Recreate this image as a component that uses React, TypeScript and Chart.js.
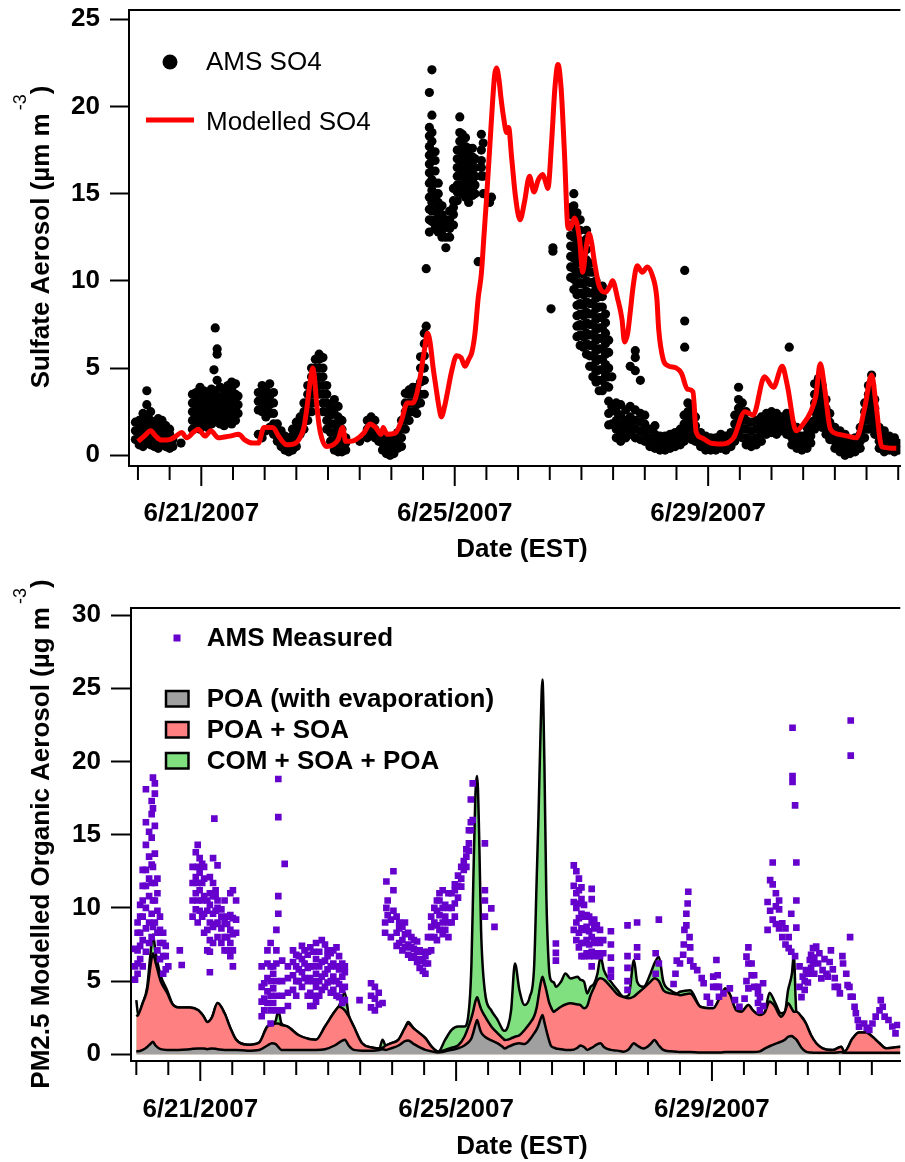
import React, { useEffect, useRef } from "react";
import { Chart, registerables } from "chart.js";

Chart.register(...registerables);

const FONT = '"Liberation Sans", Arial, Helvetica, sans-serif';

// x values: days since 6/20/2007 00:00 EST
const dateTickLabels = ["6/21/2007", "6/25/2007", "6/29/2007"];
const dateTickLabelDays = [1, 5, 9];
const dateMinorTickDays = [0, 0.5, 1, 1.5, 2, 2.5, 3, 3.5, 4, 4.5, 5, 5.5, 6, 6.5, 7, 7.5, 8, 8.5, 9, 9.5, 10, 10.5, 11, 11.5, 12];

const so4YTicks = [0, 5, 10, 15, 20, 25];
const orgYTicks = [0, 5, 10, 15, 20, 25, 30];

// ---------- Top panel: sulfate ----------
const so4ModelDays = [
  0.00, 0.10, 0.20, 0.28, 0.37, 0.50, 0.60, 0.69, 0.77, 0.87,
  0.95, 1.06, 1.15, 1.27, 1.36, 1.45, 1.59, 1.68, 1.81, 1.90,
  1.99, 2.13, 2.22, 2.35, 2.49, 2.57, 2.62, 2.67, 2.71, 2.76,
  2.79, 2.82, 2.86, 2.90, 2.97, 3.08, 3.16, 3.23, 3.28, 3.36,
  3.44, 3.57, 3.66, 3.75, 3.84, 3.87, 3.93, 4.07, 4.16, 4.25,
  4.34, 4.43, 4.52, 4.57, 4.61, 4.66, 4.70, 4.75, 4.79, 4.84,
  4.88, 4.95, 5.03, 5.10, 5.16, 5.22, 5.27, 5.32, 5.37, 5.42,
  5.46, 5.50, 5.55, 5.60, 5.63, 5.66, 5.70, 5.73, 5.77, 5.82,
  5.85, 5.90, 5.96, 6.03, 6.10, 6.18, 6.25, 6.32, 6.39, 6.44,
  6.47, 6.53, 6.58, 6.63, 6.68, 6.73, 6.79, 6.82, 6.89, 6.97,
  7.02, 7.07, 7.12, 7.16, 7.20, 7.28, 7.38, 7.45, 7.49, 7.57,
  7.64, 7.68, 7.73, 7.77, 7.82, 7.88, 7.96, 8.04, 8.12, 8.19,
  8.22, 8.29, 8.36, 8.50, 8.58, 8.67, 8.76, 8.81, 8.90, 9.04,
  9.22, 9.40, 9.58, 9.71, 9.89, 10.03, 10.17, 10.25, 10.39, 10.48,
  10.62, 10.70, 10.77, 10.84, 10.93, 11.07, 11.20, 11.34, 11.47, 11.58,
  11.65, 11.74, 11.97,
];
const so4ModelValues = [
  0.8, 1.1, 1.4, 1.1, 0.87, 0.9, 1.1, 1.3, 1.0, 1.3,
  1.5, 1.1, 1.4, 1.0, 1.05, 1.1, 1.2, 0.9, 0.7, 0.7,
  1.6, 1.6, 1.1, 0.6, 0.7, 1.1, 1.6, 2.8, 4.0, 5.0,
  4.3, 3.0, 1.7, 1.0, 0.5, 0.6, 0.9, 1.6, 0.8, 0.8,
  0.9, 1.3, 1.8, 1.6, 1.2, 1.6, 1.2, 1.3, 2.0, 3.0,
  3.0, 4.0, 6.0, 7.0, 6.5, 5.0, 4.0, 2.8, 2.2, 2.8,
  3.5, 4.8, 5.7, 5.6, 5.1, 5.5, 5.9, 7.0, 9.0, 10.4,
  12.5, 14.6, 17.5, 20.4, 21.8, 22.2, 21.5, 20.5, 19.4, 18.5,
  18.8, 17.0, 14.8, 13.5, 14.5, 16.0, 15.1, 15.8, 16.1, 15.6,
  15.3, 18.0, 21.0, 22.4, 21.0, 17.5, 13.0, 13.0, 13.6, 12.4,
  10.5, 11.8, 12.7, 12.2, 11.2, 9.7, 9.35, 9.7, 10.0, 9.0,
  7.8, 6.5, 7.0, 8.2, 9.8, 10.86, 10.5, 10.8, 10.3, 9.0,
  7.2, 5.5, 5.15, 5.0, 4.7, 3.8, 3.65, 1.35, 1.0, 0.7,
  0.65, 1.0, 2.5, 2.3, 4.5, 3.9, 5.1, 4.0, 1.4, 1.7,
  2.5, 3.4, 5.25, 3.8, 1.5, 1.2, 1.1, 1.0, 2.7, 4.6,
  2.9, 0.5, 0.4,
];

// each row: [day, observed values at that time...]
const amsSo4Rows: number[][] = [
  [-0.04, 0.9, 1.4, 1.9], [0.02, 0.6, 1.0, 1.5, 2.0], [0.08, 0.5, 0.9, 1.4, 1.9, 2.4],
  [0.14, 0.7, 1.2, 1.7, 2.2, 2.9, 3.7], [0.20, 0.6, 1.0, 1.5, 2.0, 2.5], [0.26, 0.5, 0.9, 1.4, 1.9],
  [0.32, 0.4, 0.8, 1.3, 1.8, 2.1], [0.38, 0.6, 1.0, 1.5, 2.0], [0.44, 0.5, 0.9, 1.3, 1.7],
  [0.50, 0.4, 0.8, 1.2, 1.5], [0.55, 0.5, 0.9], [0.68, 0.7],
  [0.86, 1.5, 2.0, 2.5, 3.0, 3.5], [0.92, 1.6, 2.1, 2.6, 3.1, 3.6], [0.98, 1.5, 2.0, 2.5, 3.0, 3.5, 3.9],
  [1.04, 1.7, 2.2, 2.7, 3.2, 3.7], [1.10, 1.6, 2.1, 2.6, 3.1, 3.6], [1.16, 1.8, 2.3, 2.8, 3.3, 3.8],
  [1.20, 2.0, 2.5, 3.0, 3.5, 4.9], [1.22, 2.2, 2.7, 3.2, 3.7, 7.3], [1.25, 1.9, 2.4, 2.9, 3.4, 4.3, 5.8, 6.1],
  [1.30, 1.8, 2.3, 2.8, 3.3, 3.9], [1.36, 1.7, 2.2, 2.7, 3.2, 3.7], [1.42, 2.0, 2.5, 3.0, 3.5, 4.0],
  [1.48, 1.8, 2.3, 2.8, 3.3, 3.8, 4.2], [1.54, 2.0, 2.5, 3.0, 3.5, 4.1], [1.58, 2.4, 2.9, 3.4],
  [1.90, 1.2, 2.6, 3.1, 3.6], [1.96, 1.0, 2.5, 3.0, 3.5, 4.0], [2.02, 1.4, 2.2, 2.8, 3.3, 3.8],
  [2.08, 1.6, 2.4, 2.9, 3.4, 4.1], [2.14, 1.2, 1.8, 2.4, 3.0, 3.6], [2.20, 0.8, 1.3, 1.8],
  [2.26, 0.5, 0.9, 1.4], [2.32, 0.3, 0.7, 1.1], [2.38, 0.2, 0.6, 1.0],
  [2.44, 0.3, 0.7, 1.1, 1.5], [2.50, 0.5, 1.0, 1.5, 1.9], [2.56, 1.2, 1.7, 2.2],
  [2.62, 1.5, 2.0, 2.5, 3.0], [2.68, 2.0, 2.5, 3.0, 3.5, 4.0], [2.74, 2.5, 3.0, 3.5, 4.0, 4.5, 5.0],
  [2.80, 3.0, 3.5, 4.0, 4.5, 5.0, 5.5], [2.86, 3.5, 4.0, 4.5, 5.0, 5.5, 5.8], [2.92, 2.5, 3.0, 3.5, 4.0, 4.5, 5.0, 5.6],
  [2.98, 1.5, 2.0, 2.5, 3.0, 3.5, 4.0], [3.04, 0.8, 1.3, 1.8, 2.3, 2.8], [3.10, 0.3, 0.8, 1.3, 1.8, 2.4, 3.2],
  [3.16, 0.2, 0.6, 1.1, 1.6, 2.2, 2.8], [3.22, 0.2, 0.6, 1.0, 1.5, 2.0], [3.28, 0.3, 0.7, 1.0],
  [3.50, 0.8], [3.62, 1.0, 1.5, 2.0], [3.68, 1.2, 1.7, 2.2], [3.74, 1.0, 1.5, 2.0], [3.80, 0.8, 1.2],
  [3.86, 0.3, 0.7, 1.1], [3.92, 0.1, 0.5, 0.9], [3.98, 0.0, 0.4, 0.8], [4.04, 0.1, 0.5, 1.0],
  [4.10, 0.4, 0.9, 1.3], [4.16, 0.5, 1.0, 1.5, 2.0], [4.22, 1.5, 2.0, 2.5, 3.0, 3.55],
  [4.28, 2.0, 2.5, 3.0, 3.5, 3.75], [4.34, 2.5, 3.0, 3.5, 3.9], [4.40, 2.4, 2.9, 3.4, 3.9],
  [4.46, 3.0, 3.5, 4.2, 5.0, 5.65], [4.52, 3.5, 4.3, 5.0, 5.7, 6.4, 7.0], [4.55, 7.4, 10.7],
  [4.60, 12.8, 13.5, 14.1, 14.8, 15.6, 16.2, 16.7, 17.2, 17.7, 18.3, 18.8, 20.8],
  [4.64, 13.4, 14.0, 14.5, 15.2, 15.8, 16.3, 16.9, 17.4, 18.0, 18.5, 19.5, 22.1],
  [4.69, 13.0, 13.5, 14.0, 14.5, 15.0, 15.6, 16.3, 16.9, 17.4],
  [4.74, 12.8, 13.2, 13.6, 14.1, 14.5, 15.0, 15.6], [4.80, 12.5, 12.9, 13.2, 13.8, 14.3],
  [4.86, 11.9, 12.5, 13.1, 13.5], [4.92, 12.5, 13.0, 13.5, 14.0], [4.98, 13.2, 13.8, 14.2, 14.6, 15.3],
  [5.04, 14.6, 15.1, 15.5, 16.0, 16.5, 17.0, 17.5], [5.08, 15.5, 16.0, 16.5, 17.0, 17.5, 18.0, 18.5, 19.4],
  [5.12, 15.0, 15.5, 16.0, 16.4, 16.8, 17.2, 17.7, 18.4], [5.17, 14.8, 15.2, 15.6, 16.0, 16.3, 16.8, 17.2, 17.7, 18.2],
  [5.22, 14.5, 15.0, 15.5, 16.1, 16.5, 16.8, 17.2, 17.6], [5.28, 14.9, 15.3, 15.8, 16.2, 16.6, 17.1, 17.6],
  [5.32, 15.0, 15.5, 16.0, 16.5, 17.0], [5.37, 11.1], [5.42, 16.0, 16.5, 16.9, 17.5, 18.4], [5.45, 15.0, 16.0, 17.9],
  [5.55, 14.5], [5.58, 14.8], [6.52, 8.4], [6.55, 11.7, 11.9],
  [6.83, 10.2, 10.8, 11.4, 12.0, 12.6, 13.2, 13.8, 14.2],
  [6.88, 9.5, 10.1, 10.7, 11.3, 11.9, 12.5, 13.1, 13.7, 14.3, 15.0],
  [6.93, 6.8, 7.4, 8.0, 8.6, 9.2, 9.8, 10.4, 11.0, 11.6, 12.2, 12.8, 13.4, 13.9],
  [6.98, 6.3, 6.9, 7.5, 8.1, 8.7, 9.3, 9.9, 10.5, 11.1, 11.7, 12.3, 12.9, 13.5],
  [7.03, 6.2, 6.8, 7.4, 8.0, 8.6, 9.2, 9.8, 10.4, 11.0, 11.6, 12.2],
  [7.08, 5.8, 6.4, 7.0, 7.6, 8.2, 8.8, 9.4, 10.0, 10.6, 11.2, 11.8, 12.4, 12.9],
  [7.13, 5.1, 5.7, 6.3, 6.9, 7.5, 8.1, 8.7, 9.3, 9.9, 10.5, 11.0],
  [7.18, 4.5, 5.1, 5.7, 6.3, 6.9, 7.5, 8.1, 8.7, 9.3, 9.9, 10.5],
  [7.23, 4.2, 4.8, 5.4, 6.0, 6.6, 7.2, 7.8, 8.4, 9.0, 9.6, 10.0],
  [7.28, 3.7, 4.3, 4.9, 5.5, 6.1, 6.7, 7.3, 7.9, 8.5, 9.1, 9.5],
  [7.33, 3.7, 4.3, 4.9, 5.5, 6.1, 6.7, 7.3, 7.9, 8.5, 9.1, 9.7],
  [7.38, 4.0, 4.6, 5.2, 5.8, 6.4, 7.0, 7.6, 8.1],
  [7.43, 1.74, 2.4, 3.1, 3.9, 4.5, 5.0, 5.9, 6.6], [7.48, 1.8, 2.8, 4.5],
  [7.55, 1.0, 1.5, 2.0, 2.5, 3.0], [7.62, 0.8, 1.3, 1.8, 2.3, 2.9], [7.70, 1.0, 1.5, 2.0, 2.6],
  [7.77, 1.2, 1.7, 2.2, 2.8, 5.1], [7.85, 1.0, 1.5, 2.0, 2.6, 4.85, 5.6, 6.0], [7.93, 0.9, 1.4, 1.9, 2.4, 4.3],
  [8.00, 0.8, 1.3, 1.8, 2.3], [8.08, 0.5, 1.0, 1.5], [8.16, 0.4, 0.8, 1.2, 1.7], [8.24, 0.3, 0.7, 1.1],
  [8.32, 0.3, 0.7, 1.1], [8.40, 0.4, 0.8, 1.2], [8.48, 0.5, 0.9, 1.3], [8.56, 0.6, 1.0, 1.5],
  [8.62, 0.8, 1.3, 1.8, 2.3], [8.63, 6.2, 7.7, 10.6], [8.68, 1.0, 1.5, 2.0, 2.5, 3.0],
  [8.74, 0.9, 1.4, 1.9, 2.4, 2.9], [8.80, 0.8, 1.2, 1.7, 2.2], [8.88, 0.5, 0.9, 1.3],
  [8.96, 0.3, 0.7, 1.1], [9.04, 0.3, 0.6, 1.0], [9.12, 0.3, 0.7, 1.0], [9.20, 0.4, 0.8, 1.2],
  [9.28, 0.3, 0.7, 1.1], [9.36, 0.5, 0.9, 1.3], [9.42, 0.8, 1.3, 1.8, 2.3],
  [9.48, 1.2, 1.7, 2.2, 2.7, 3.2, 3.9], [9.54, 1.0, 1.5, 2.0, 2.5, 3.0], [9.60, 0.6, 1.0, 1.5, 2.0, 2.5],
  [9.68, 0.5, 0.9, 1.4, 1.9], [9.76, 0.6, 1.0, 1.5, 2.0], [9.84, 0.8, 1.2, 1.7, 2.2],
  [9.92, 1.2, 1.6, 2.0, 2.4], [10.00, 1.3, 1.7, 2.1, 2.5], [10.08, 1.2, 1.6, 2.0, 2.4],
  [10.16, 1.4, 1.8, 2.2], [10.24, 1.2, 1.6, 2.0, 2.4], [10.28, 6.2],
  [10.32, 0.6, 1.0, 1.4, 1.8], [10.40, 0.4, 0.8, 1.2, 1.6], [10.48, 0.3, 0.7, 1.1],
  [10.56, 0.4, 0.8, 1.2, 1.6], [10.62, 0.7, 1.1, 1.5, 1.9], [10.68, 1.5, 2.0, 2.5, 3.0, 3.5, 4.1],
  [10.74, 1.8, 2.3, 2.8, 3.3, 3.8, 4.4], [10.80, 1.6, 2.1, 2.6, 3.1, 3.6, 4.0], [10.86, 1.2, 1.7, 2.2, 2.7, 3.2],
  [10.92, 0.9, 1.4, 1.9, 2.4], [11.00, 0.4, 0.8, 1.2, 1.6], [11.08, 0.2, 0.6, 1.0, 1.4],
  [11.16, 0.0, 0.4, 0.8, 1.2], [11.24, 0.1, 0.5, 0.9], [11.32, 0.2, 0.6, 1.0], [11.40, 0.4, 0.8, 1.2, 1.6],
  [11.47, 1.0, 1.5, 2.0, 2.5, 3.0], [11.53, 1.5, 2.0, 2.5, 3.0, 3.5, 4.0], [11.58, 2.0, 2.5, 3.0, 3.5, 4.0, 4.6],
  [11.63, 1.2, 1.7, 2.2, 2.7, 3.2], [11.70, 0.4, 0.8, 1.2, 1.6], [11.78, 0.2, 0.6, 1.0, 1.4],
  [11.86, 0.3, 0.7, 1.1], [11.94, 0.2, 0.6, 1.0], [12.00, 0.3, 0.7],
];

// ---------- Bottom panel: organics ----------
const orgDays = [
  0.00, 0.03, 0.10, 0.17, 0.22, 0.26, 0.30, 0.38, 0.48, 0.57,
  0.66, 0.84, 0.97, 1.05, 1.11, 1.18, 1.27, 1.38, 1.47, 1.56,
  1.74, 1.92, 2.05, 2.12, 2.18, 2.22, 2.27, 2.36, 2.54, 2.70,
  2.81, 2.95, 3.10, 3.17, 3.26, 3.32, 3.40, 3.53, 3.70, 3.80,
  3.85, 3.90, 3.98, 4.10, 4.20, 4.25, 4.34, 4.52, 4.62, 4.72,
  4.83, 4.93, 5.03, 5.13, 5.21, 5.24, 5.27, 5.30, 5.33, 5.36,
  5.39, 5.45, 5.55, 5.65, 5.73, 5.76, 5.81, 5.86, 5.92, 5.99,
  6.07, 6.15, 6.22, 6.26, 6.29, 6.32, 6.35, 6.38, 6.41, 6.45,
  6.48, 6.53, 6.56, 6.64, 6.71, 6.79, 6.90, 6.94, 7.00, 7.05,
  7.10, 7.16, 7.21, 7.26, 7.31, 7.42, 7.52, 7.62, 7.70, 7.78,
  7.83, 7.93, 8.04, 8.10, 8.17, 8.24, 8.35, 8.45, 8.50, 8.66,
  8.82, 9.02, 9.13, 9.21, 9.28, 9.38, 9.46, 9.57, 9.64, 9.75,
  9.83, 9.90, 9.98, 10.08, 10.14, 10.19, 10.25, 10.28, 10.32, 10.40,
  10.47, 10.55, 10.63, 10.73, 10.89, 11.02, 11.07, 11.20, 11.30, 11.41,
  11.51, 11.62, 11.72, 11.95,
];
const poaValues = [
  0.2, 0.2, 0.3, 0.5, 0.7, 0.85, 0.6, 0.35, 0.3, 0.3,
  0.3, 0.35, 0.4, 0.4, 0.35, 0.4, 0.35, 0.3, 0.3, 0.3,
  0.25, 0.3, 0.6, 0.75, 0.7, 0.5, 0.3, 0.3, 0.3, 0.3,
  0.3, 0.35, 0.6, 0.8, 1.0, 0.6, 0.3, 0.25, 0.25, 0.3,
  0.35, 0.3, 0.4, 0.6, 0.9, 0.95, 0.7, 0.3, 0.2, 0.12,
  0.2, 0.3, 0.4, 0.6, 0.9, 1.1, 1.5, 2.0, 2.34, 1.9,
  1.5, 1.2, 0.95, 0.75, 0.5, 0.4, 0.5, 0.6, 0.7, 0.75,
  0.7, 1.0, 1.43, 1.7, 2.0, 2.4, 2.68, 2.2, 1.66, 1.0,
  0.6, 0.45, 0.4, 0.35, 0.3, 0.29, 0.45, 0.6, 0.5, 0.3,
  0.4, 0.55, 0.7, 0.75, 0.5, 0.3, 0.25, 0.18, 0.35, 0.75,
  0.6, 0.4, 0.7, 0.98, 0.6, 0.3, 0.2, 0.18, 0.15, 0.15,
  0.12, 0.12, 0.12, 0.15, 0.15, 0.15, 0.15, 0.15, 0.15, 0.2,
  0.4, 0.55, 0.7, 0.86, 1.0, 1.2, 1.25, 1.15, 1.0, 0.45,
  0.18, 0.12, 0.1, 0.1, 0.1, 0.15, 0.1, 0.1, 0.1, 0.1,
  0.1, 0.1, 0.1, 0.1,
];
const poaSoaValues = [
  2.6, 2.7, 3.5, 4.4, 6.0, 6.9, 6.3, 5.0, 4.2, 3.4,
  3.2, 3.2, 3.0, 2.6, 2.2, 2.5, 3.5, 2.8, 1.8, 1.0,
  0.65, 0.8, 1.9, 2.0, 2.1, 2.1, 2.0, 1.9, 1.3, 1.05,
  1.0, 1.9, 2.9, 3.25, 3.0, 2.6, 1.9, 0.75, 0.45, 0.4,
  0.45, 0.6, 0.75, 1.0, 1.8, 2.1, 1.75, 1.1, 0.5, 0.18,
  0.3, 0.45, 0.6, 1.2, 2.1, 2.5, 3.0, 3.6, 3.9, 3.5,
  3.1, 2.6, 1.9, 1.43, 1.1, 0.98, 1.0, 1.09, 1.2, 1.3,
  1.66, 2.1, 2.6, 3.2, 4.0, 4.8, 5.3, 4.9, 4.37, 3.6,
  3.25, 2.9, 3.0, 3.25, 3.4, 3.48, 3.4, 3.37, 3.14, 3.3,
  4.0, 4.6, 5.07, 5.2, 5.1, 4.6, 4.1, 3.9, 3.82, 3.95,
  4.14, 4.5, 4.96, 5.2, 5.0, 4.38, 4.16, 4.1, 4.04, 4.16,
  3.25, 3.14, 3.93, 4.5, 4.1, 3.0, 2.9, 3.37, 3.0, 2.68,
  2.9, 3.6, 3.3, 2.57, 2.9, 3.48, 3.1, 2.9, 2.9, 2.57,
  2.1, 1.3, 0.75, 0.41, 0.29, 0.52, 0.18, 1.09, 1.48, 1.48,
  1.2, 0.75, 0.41, 0.52,
];
const comSoaPoaValues = [
  3.7, 2.7, 3.5, 4.6, 6.8, 8.2, 7.0, 5.4, 4.4, 3.4,
  3.2, 3.2, 3.0, 2.6, 2.2, 2.5, 3.5, 2.8, 1.8, 1.0,
  0.65, 0.8, 1.9, 2.0, 2.3, 3.0, 2.1, 1.9, 1.3, 1.05,
  1.0, 1.9, 2.9, 3.3, 4.2, 2.7, 1.9, 0.75, 0.45, 0.4,
  1.0, 0.6, 0.75, 1.0, 1.8, 2.2, 1.75, 1.1, 0.5, 0.18,
  1.0, 1.66, 1.89, 1.89, 3.5, 6.2, 12.0, 17.5, 19.0, 15.0,
  8.5, 4.3, 3.0, 2.34, 1.66, 1.6, 1.9, 3.0, 6.2, 4.38,
  3.37, 3.9, 6.0, 12.0, 16.6, 22.0, 25.6, 20.0, 11.0, 6.0,
  5.07, 4.9, 4.61, 4.96, 5.52, 5.18, 5.3, 5.1, 4.96, 4.16,
  4.6, 4.84, 5.52, 6.67, 5.75, 4.96, 4.4, 3.93, 4.04, 6.44,
  4.96, 4.61, 5.52, 6.2, 6.67, 4.96, 4.38, 4.16, 4.27, 4.38,
  3.25, 3.14, 3.93, 4.5, 4.1, 3.0, 2.9, 3.37, 3.0, 2.68,
  2.9, 4.2, 3.6, 2.8, 2.9, 4.38, 5.5, 6.8, 2.9, 2.57,
  2.1, 1.3, 0.75, 0.41, 0.29, 0.52, 0.18, 1.09, 1.48, 1.48,
  1.2, 0.75, 0.41, 0.52,
];

// each row: [day, measured values at that time...]
const amsOrgRows: number[][] = [
  [-0.02, 5.1, 6.0, 7.2], [0.02, 5.5, 6.2, 7.1, 8.3, 9.0], [0.06, 6.5, 7.4, 8.3, 9.4, 10.2],
  [0.10, 6.0, 7.8, 9.4, 10.5, 11.5, 12.6], [0.15, 7.0, 8.6, 10.0, 11.5, 12.6, 14.3, 15.85, 18.1],
  [0.20, 7.6, 9.0, 10.8, 12.0, 13.5, 15.2], [0.24, 8.0, 9.6, 11.7, 12.95, 14.8, 16.4, 17.3],
  [0.26, 8.7, 10.5, 12.8, 16.8, 18.9], [0.29, 9.0, 10.5, 11.7, 13.7, 15.6, 17.8, 18.5],
  [0.33, 7.1, 8.3, 9.8, 11.0, 12.0], [0.37, 6.5, 7.6, 8.5, 9.4], [0.42, 5.5, 6.7, 7.6, 8.3],
  [0.46, 5.8, 6.7, 7.4], [0.50, 6.0], [0.68, 7.1], [0.71, 6.1],
  [0.88, 9.4, 10.5, 11.7, 12.8], [0.93, 9.9, 11.0, 12.1, 13.8], [0.96, 9.0, 10.5, 11.7, 12.8, 14.3],
  [0.99, 9.8, 11.2, 12.4, 13.4], [1.03, 9.4, 10.5, 11.7, 13.0], [1.06, 8.3, 9.6, 10.8, 12.0, 12.8],
  [1.11, 7.1, 8.5, 9.8, 10.5], [1.15, 5.6, 7.0, 7.8, 9.0, 10.2, 11.0, 12.1],
  [1.20, 7.6, 8.7, 9.6, 10.8, 11.7, 13.4], [1.22, 16.1], [1.24, 8.9, 9.8, 10.8, 11.2],
  [1.27, 8.0, 9.0, 10.0, 10.5, 12.9], [1.33, 7.6, 8.6, 9.4, 9.9], [1.38, 7.1, 8.0, 9.0, 10.5],
  [1.42, 7.1, 8.0, 8.9, 9.4], [1.47, 6.7, 7.6, 8.5, 9.5, 11.0], [1.51, 6.0, 7.1, 8.2, 9.3, 11.2],
  [1.56, 8.3, 9.2, 10.5],
  [1.96, 2.6, 3.6, 4.6, 6.0], [2.00, 3.0, 3.8, 4.85], [2.05, 3.5, 4.3, 5.2, 6.2, 7.1],
  [2.10, 2.1, 3.0, 4.0, 5.0, 6.0, 7.6], [2.14, 3.5, 4.5, 5.5, 6.0], [2.19, 3.0, 4.0, 5.0, 6.2, 7.1, 8.5],
  [2.22, 9.6, 10.8, 16.2, 18.8], [2.28, 3.0, 4.0, 5.0, 6.4], [2.32, 13.0], [2.37, 3.3, 4.2, 5.2, 6.0],
  [2.45, 4.4, 5.4, 6.3, 7.1], [2.50, 4.0, 5.0, 6.0, 6.8], [2.54, 5.0, 5.8, 6.7], [2.59, 4.6, 5.6, 6.5, 7.4],
  [2.63, 5.2, 6.2, 7.1], [2.68, 4.0, 5.0, 5.9, 6.8], [2.72, 3.3, 4.2, 5.2, 6.0, 7.3],
  [2.77, 3.3, 4.0, 5.0, 6.0, 7.0], [2.81, 3.6, 4.6, 5.5, 6.5, 7.6], [2.86, 4.0, 5.0, 6.0, 7.0],
  [2.90, 4.4, 5.3, 6.3, 7.8], [2.95, 4.6, 5.5, 6.4, 7.5], [2.99, 4.9, 5.8, 6.7, 7.1],
  [3.04, 4.2, 5.0, 6.0, 6.9], [3.08, 4.4, 5.3, 6.2, 7.1], [3.13, 4.0, 5.0, 6.0, 7.3],
  [3.17, 3.9, 4.8, 5.8, 6.7], [3.22, 3.5, 4.4, 5.3, 6.2], [3.26, 3.7, 4.6, 5.6, 6.0],
  [3.49, 3.7], [3.67, 3.2, 4.0, 4.85], [3.73, 3.0, 3.8, 4.6], [3.79, 3.4, 4.2], [3.85, 3.5],
  [3.89, 8.3, 9.0], [3.91, 10.0, 11.8], [3.93, 9.5, 10.5], [3.98, 8.0, 9.2], [4.02, 9.8, 11.2, 12.5],
  [4.07, 7.4, 8.3, 9.4], [4.11, 7.6, 8.6, 9.0], [4.16, 7.1, 7.8, 8.7], [4.20, 7.3, 8.2, 9.0],
  [4.25, 6.8, 7.5, 8.3], [4.30, 6.6, 7.3, 8.0], [4.34, 6.7, 7.2, 7.8], [4.39, 6.3, 7.0, 7.7],
  [4.43, 5.9, 6.5, 7.1], [4.48, 5.7, 6.4, 7.0], [4.52, 5.5, 6.2, 6.7], [4.56, 6.2, 7.0, 8.0],
  [4.61, 7.1, 8.0, 8.7, 9.4], [4.66, 8.0, 9.0, 10.0], [4.70, 7.8, 8.8, 9.8, 10.5],
  [4.74, 8.5, 9.5, 10.5, 11.0], [4.79, 8.2, 9.0, 10.0, 11.2], [4.83, 8.5, 9.4, 10.2],
  [4.88, 8.0, 9.0, 10.0, 11.0], [4.93, 9.0, 10.0, 11.0], [4.98, 9.4, 10.3, 11.2, 11.6],
  [5.03, 10.7, 11.5, 12.2], [5.08, 11.45, 12.0, 12.8], [5.12, 12.6, 13.2], [5.16, 12.8, 13.5, 14.0],
  [5.20, 13.9, 14.4, 15.3], [5.23, 15.3, 15.85, 17.4], [5.26, 16.0, 18.5],
  [5.45, 9.4, 10.5, 11.2, 14.4], [5.55, 9.97], [5.60, 8.7], [6.56, 6.4, 6.93, 7.57],
  [6.84, 8.5, 10.4, 11.5, 12.9], [6.88, 7.8, 9.0, 10.0, 11.0, 12.5], [6.92, 7.3, 8.3, 9.3, 10.3, 11.2, 12.0],
  [6.96, 6.7, 7.6, 8.6, 9.6, 10.6, 11.4], [7.00, 6.7, 7.6, 8.5, 9.4, 10.2], [7.04, 6.9, 7.8, 8.7, 9.5],
  [7.08, 6.7, 7.5, 8.4, 9.4], [7.12, 6.0, 7.0, 8.0, 9.0, 10.6, 11.3], [7.16, 6.7, 7.6, 8.6, 9.2],
  [7.20, 6.9, 7.8, 8.8], [7.25, 6.7, 7.6, 8.5], [7.30, 6.9, 7.8],
  [7.42, 5.3, 5.75, 6.6, 7.5, 8.4], [7.68, 4.4, 5.0, 5.9, 6.7, 8.8], [7.83, 6.67, 7.3, 9.0],
  [8.12, 5.5, 6.9], [8.17, 6.2, 9.2],
  [8.40, 4.8], [8.43, 5.5], [8.45, 6.4], [8.50, 6.2], [8.55, 6.8], [8.56, 7.5], [8.57, 8.5],
  [8.60, 8.8, 9.6], [8.62, 10.3], [8.63, 11.1], [8.65, 8.0], [8.66, 6.4, 7.3], [8.71, 6.0], [8.77, 5.75],
  [8.84, 5.2], [8.87, 4.85], [8.92, 3.93], [8.97, 3.5], [9.02, 4.6, 5.3], [9.07, 4.6, 6.44], [9.09, 5.4],
  [9.11, 3.93, 4.6], [9.18, 4.16], [9.28, 4.5], [9.36, 3.7], [9.43, 3.25], [9.51, 3.8],
  [9.54, 5.0, 6.67], [9.57, 4.5, 6.2, 7.3], [9.62, 5.4, 6.2], [9.66, 4.6, 5.4], [9.72, 3.5, 4.16, 4.6],
  [9.75, 3.0, 3.9], [9.80, 3.3, 4.85],
  [9.87, 8.5, 10.4], [9.91, 9.8, 11.9], [9.95, 9.2, 11.6, 13.1], [10.00, 8.9, 10.1, 11.0],
  [10.05, 8.6, 9.9, 10.5], [10.10, 8.0, 8.95], [10.15, 7.5, 8.6], [10.20, 7.25, 8.0], [10.24, 7.0, 9.6],
  [10.26, 18.6, 19.0, 22.3], [10.30, 6.7, 17.0], [10.32, 8.65, 10.5, 13.1],
  [10.37, 4.6, 6.0], [10.40, 3.9], [10.42, 5.3], [10.45, 4.4, 5.0], [10.47, 5.75], [10.50, 4.9, 5.5],
  [10.53, 6.44], [10.55, 5.9, 6.8], [10.58, 6.2, 7.25], [10.60, 5.5, 6.6], [10.63, 7.35], [10.66, 6.2],
  [10.68, 6.9], [10.71, 5.18], [10.73, 5.75], [10.76, 6.5], [10.79, 5.5], [10.81, 5.3], [10.84, 6.3],
  [10.86, 7.1], [10.89, 5.8], [10.92, 4.6, 5.2], [10.97, 4.6], [11.00, 4.16],
  [11.04, 6.7], [11.05, 6.2], [11.10, 5.5], [11.12, 4.72], [11.15, 4.6], [11.16, 8.0],
  [11.17, 3.93, 20.4, 22.8], [11.20, 3.93], [11.23, 3.25], [11.25, 2.8], [11.28, 2.34], [11.30, 1.89],
  [11.38, 2.1], [11.42, 1.8], [11.46, 1.66], [11.51, 2.1], [11.56, 2.57], [11.62, 3.0], [11.64, 3.7],
  [11.67, 3.25], [11.70, 2.57], [11.76, 2.34], [11.82, 1.9], [11.87, 1.43], [11.90, 2.0],
];

// ---------- helpers ----------
function rowsToPoints(rows: number[][]) {
  const pts: { x: number; y: number }[] = [];
  for (const r of rows) for (let i = 1; i < r.length; i++) pts.push({ x: r[0], y: r[i] });
  return pts;
}
function pairs(xs: number[], ys: number[]) {
  return xs.map((x, i) => ({ x, y: ys[i] }));
}

function drawYTitle(ctx: CanvasRenderingContext2D, cx: number, cy: number, main: string, sup: string, tail: string) {
  ctx.save();
  ctx.translate(cx, cy);
  ctx.rotate(-Math.PI / 2);
  const mainFont = `bold 26px ${FONT}`;
  const supFont = `18px ${FONT}`;
  ctx.font = mainFont;
  const w1 = ctx.measureText(main).width;
  const w3 = ctx.measureText(tail).width;
  ctx.font = supFont;
  const w2 = ctx.measureText(sup).width;
  const gap = 3;
  let x = -(w1 + gap + w2 + w3) / 2;
  ctx.fillStyle = "#000";
  ctx.textAlign = "left";
  ctx.textBaseline = "alphabetic";
  ctx.font = mainFont;
  ctx.fillText(main, x, 0);
  x += w1 + gap;
  ctx.font = supFont;
  ctx.fillText(sup, x, -23);
  x += w2;
  ctx.font = mainFont;
  ctx.fillText(tail, x, 0);
  ctx.restore();
}

type DecorCfg = {
  tickMinor: number;
  tickMajor: number;
  labelBaseline: number;
  titleBaseline: number;
  titleX: number;
  yTitle: { cx: number; cy: number; main: string; sup: string; tail: string };
  legend: (ctx: CanvasRenderingContext2D) => void;
};

function makeDecor(cfg: DecorCfg) {
  return {
    id: "decor",
    afterDraw(chart: any) {
      const ctx: CanvasRenderingContext2D = chart.ctx;
      const area = chart.chartArea;
      const xs = chart.scales.x;
      ctx.save();
      ctx.strokeStyle = "#000";
      ctx.lineWidth = 2;
      ctx.lineCap = "butt";
      ctx.beginPath();
      ctx.moveTo(area.left - 1, area.top);
      ctx.lineTo(area.right, area.top);
      ctx.stroke();
      for (const d of dateMinorTickDays) {
        const px = xs.getPixelForValue(d);
        if (px < area.left - 0.5 || px > area.right + 1) continue;
        const major = dateTickLabelDays.includes(d);
        ctx.beginPath();
        ctx.moveTo(px, area.bottom);
        ctx.lineTo(px, area.bottom + (major ? cfg.tickMajor : cfg.tickMinor));
        ctx.stroke();
      }
      ctx.fillStyle = "#000";
      ctx.textAlign = "center";
      ctx.textBaseline = "alphabetic";
      ctx.font = `bold 26px ${FONT}`;
      dateTickLabels.forEach((lab, i) => {
        ctx.fillText(lab, xs.getPixelForValue(dateTickLabelDays[i]), cfg.labelBaseline);
      });
      ctx.fillText("Date (EST)", cfg.titleX, cfg.titleBaseline);
      drawYTitle(ctx, cfg.yTitle.cx, cfg.yTitle.cy, cfg.yTitle.main, cfg.yTitle.sup, cfg.yTitle.tail);
      cfg.legend(ctx);
      ctx.restore();
    },
  };
}

function yScale(min: number, max: number, ticks: number[], width: number, tickLength: number) {
  return {
    type: "linear",
    min,
    max,
    afterBuildTicks: (s: any) => {
      s.ticks = ticks.map((v) => ({ value: v }));
    },
    afterFit: (s: any) => {
      s.width = width;
      s.paddingTop = 0;
      s.paddingBottom = 0;
    },
    grid: {
      display: true,
      drawOnChartArea: false,
      drawTicks: true,
      tickLength,
      tickWidth: 2,
      tickColor: "#000",
      color: "#000",
    },
    border: { display: true, width: 2, color: "#000" },
    ticks: {
      color: "#000",
      padding: 10,
      autoSkip: false,
      font: { family: FONT, size: 26, weight: "bold" },
    },
  };
}

function xScale(min: number, max: number, height: number) {
  return {
    type: "linear",
    min,
    max,
    afterFit: (s: any) => {
      s.height = height;
      s.paddingLeft = 0;
      s.paddingRight = 0;
    },
    grid: { display: false },
    border: { display: true, width: 2, color: "#000" },
    ticks: { display: false },
  };
}

function ChartCanvas({ top, width, height, build }: { top: number; width: number; height: number; build: () => any }) {
  const ref = useRef<HTMLCanvasElement>(null);
  useEffect(() => {
    const chart = new Chart(ref.current as HTMLCanvasElement, build());
    return () => chart.destroy();
  }, []);
  return (
    <canvas
      ref={ref}
      width={width}
      height={height}
      style={{ position: "absolute", left: 0, top, width, height, display: "block" }}
    />
  );
}

function buildSulfate() {
  return {
    type: "line",
    data: {
      datasets: [
        {
          type: "line",
          label: "Modelled SO4",
          data: pairs(so4ModelDays, so4ModelValues),
          borderColor: "#ff0000",
          borderWidth: 5,
          pointRadius: 0,
          fill: false,
          cubicInterpolationMode: "monotone",
          order: 0,
        },
        {
          type: "scatter",
          label: "AMS SO4",
          data: rowsToPoints(amsSo4Rows),
          backgroundColor: "#000",
          borderColor: "#000",
          borderWidth: 0,
          pointRadius: 4.6,
          order: 1,
        },
      ],
    },
    options: {
      responsive: false,
      maintainAspectRatio: false,
      animation: false,
      events: [],
      layout: { padding: { top: 10, left: 0, right: 0, bottom: 0 } },
      plugins: { legend: { display: false }, tooltip: { enabled: false } },
      scales: {
        x: xScale(-0.1412, 12.0345, 104),
        y: yScale(-0.614, 25.53, so4YTicks, 129, 19),
      },
    },
    plugins: [
      makeDecor({
        tickMinor: 14,
        tickMajor: 20,
        labelBaseline: 521,
        titleBaseline: 557,
        titleX: 522,
        yTitle: { cx: 49, cy: 237, main: "Sulfate Aerosol (\u00b5m m", sup: "-3", tail: ")" },
        legend: (ctx) => {
          ctx.fillStyle = "#000";
          ctx.beginPath();
          ctx.arc(170, 62, 7.5, 0, Math.PI * 2);
          ctx.fill();
          ctx.strokeStyle = "#ff0000";
          ctx.lineWidth = 5;
          ctx.beginPath();
          ctx.moveTo(146, 120);
          ctx.lineTo(194, 120);
          ctx.stroke();
          ctx.fillStyle = "#000";
          ctx.textAlign = "left";
          ctx.textBaseline = "alphabetic";
          ctx.font = `26px ${FONT}`;
          ctx.fillText("AMS SO4", 206, 70);
          ctx.fillText("Modelled SO4", 206, 129.5);
        },
      }),
    ],
  };
}

function buildOrganics() {
  const area = (data: any, color: string, order: number, label: string) => ({
    type: "line",
    label,
    data,
    fill: "origin",
    backgroundColor: color,
    borderColor: "#000",
    borderWidth: 2.5,
    pointRadius: 0,
    cubicInterpolationMode: "monotone",
    order,
  });
  return {
    type: "line",
    data: {
      datasets: [
        {
          type: "scatter",
          label: "AMS Measured",
          data: rowsToPoints(amsOrgRows),
          pointStyle: "rect",
          pointRadius: 4.7,
          backgroundColor: "#6600cc",
          borderColor: "#6600cc",
          borderWidth: 0,
          order: 0,
        },
        area(pairs(orgDays, poaValues), "#a0a0a0", 1, "POA (with evaporation)"),
        area(pairs(orgDays, poaSoaValues), "#ff8080", 2, "POA + SOA"),
        area(pairs(orgDays, comSoaPoaValues), "#80e080", 3, "COM + SOA + POA"),
      ],
    },
    options: {
      responsive: false,
      maintainAspectRatio: false,
      animation: false,
      events: [],
      layout: { padding: { top: 38, left: 0, right: 0, bottom: 0 } },
      plugins: { legend: { display: false }, tooltip: { enabled: false } },
      scales: {
        x: xScale(-0.0831, 11.945, 101),
        y: yScale(-0.458, 30.48, orgYTicks, 131, 20),
      },
    },
    plugins: [
      makeDecor({
        tickMinor: 14,
        tickMajor: 20,
        labelBaseline: 547,
        titleBaseline: 584,
        titleX: 522,
        yTitle: { cx: 49, cy: 264, main: "PM2.5 Modelled Organic Aerosol (\u00b5g m", sup: "-3", tail: ")" },
        legend: (ctx) => {
          ctx.fillStyle = "#6600cc";
          ctx.fillRect(173.5, 64.5, 7, 7);
          const boxes: [number, string, string][] = [
            [121, "#a0a0a0", "POA (with evaporation)"],
            [152, "#ff8080", "POA + SOA"],
            [183, "#80e080", "COM + SOA + POA"],
          ];
          ctx.lineWidth = 2.5;
          ctx.strokeStyle = "#000";
          for (const [y, c] of boxes) {
            ctx.fillStyle = c;
            ctx.fillRect(166, y, 22.5, 15.5);
            ctx.strokeRect(166, y, 22.5, 15.5);
          }
          ctx.fillStyle = "#000";
          ctx.textAlign = "left";
          ctx.textBaseline = "alphabetic";
          ctx.font = `bold 26px ${FONT}`;
          ctx.fillText("AMS Measured", 206.7, 76);
          ctx.fillText(boxes[0][2], 206.7, 137);
          ctx.fillText(boxes[1][2], 206.7, 167.5);
          ctx.fillText(boxes[2][2], 206.7, 198.5);
        },
      }),
    ],
  };
}

export default function App() {
  useEffect(() => {
    document.body.style.margin = "0";
  }, []);
  return (
    <div style={{ position: "absolute", left: 0, top: 0, width: 905, height: 1162, background: "#fff", overflow: "hidden" }}>
      <ChartCanvas top={0} width={905} height={570} build={buildSulfate} />
      <ChartCanvas top={570} width={905} height={592} build={buildOrganics} />
    </div>
  );
}
